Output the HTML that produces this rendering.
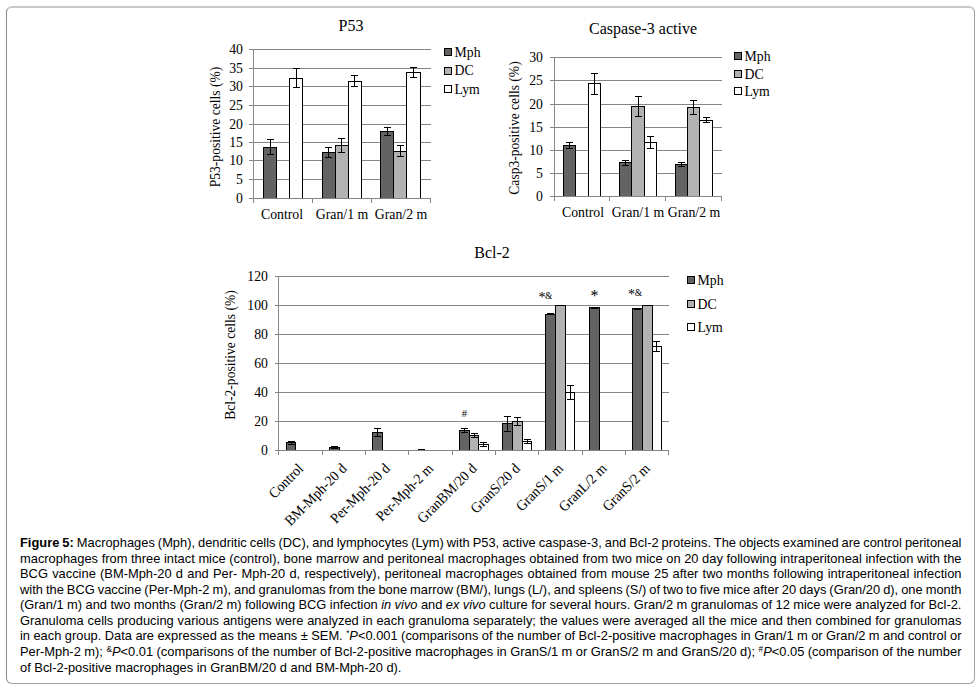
<!DOCTYPE html>
<html><head><meta charset="utf-8"><title>Figure 5</title>
<style>
html,body{margin:0;padding:0;background:#fff;}
body{width:977px;height:686px;position:relative;overflow:hidden;font-family:"Liberation Sans",sans-serif;}
#frame{position:absolute;left:6px;top:6px;width:969px;height:678px;border:1px solid #a2a2a2;border-left-color:#8a8a8a;border-top:2px solid #c8c8c8;border-radius:6px;box-sizing:border-box;box-shadow:0 0 1px rgba(0,0,0,0.12);}
svg{position:absolute;left:0;top:0;}
svg text{font-family:"Liberation Serif",serif;fill:#000000;}
#cap{position:absolute;left:20px;top:0;width:974.6px;font-size:13.33px;line-height:15.53px;color:#000;transform:scaleX(0.966);transform-origin:0 0;}
#cap .l{position:absolute;left:0;width:974.6px;text-align:justify;text-align-last:justify;white-space:nowrap;height:15.53px;word-spacing:-1.2px;}
#cap .l.last{text-align:left;text-align-last:left;word-spacing:0;}
#cap sup{font-size:8.5px;line-height:0;vertical-align:4.3px;}
</style></head><body>
<div id="frame"></div>
<svg width="977" height="686" viewBox="0 0 977 686" shape-rendering="crispEdges">
<rect x="249" y="49" width="182" height="1" fill="#868686"/>
<text transform="translate(243,53.6) scale(0.94,1)" text-anchor="end" font-size="14.67">40</text>
<rect x="249" y="68" width="182" height="1" fill="#868686"/>
<text transform="translate(243,72.6) scale(0.94,1)" text-anchor="end" font-size="14.67">35</text>
<rect x="249" y="86" width="182" height="1" fill="#868686"/>
<text transform="translate(243,90.6) scale(0.94,1)" text-anchor="end" font-size="14.67">30</text>
<rect x="249" y="105" width="182" height="1" fill="#868686"/>
<text transform="translate(243,109.6) scale(0.94,1)" text-anchor="end" font-size="14.67">25</text>
<rect x="249" y="124" width="182" height="1" fill="#868686"/>
<text transform="translate(243,128.6) scale(0.94,1)" text-anchor="end" font-size="14.67">20</text>
<rect x="249" y="142" width="182" height="1" fill="#868686"/>
<text transform="translate(243,146.6) scale(0.94,1)" text-anchor="end" font-size="14.67">15</text>
<rect x="249" y="160" width="182" height="1" fill="#868686"/>
<text transform="translate(243,164.6) scale(0.94,1)" text-anchor="end" font-size="14.67">10</text>
<rect x="249" y="179" width="182" height="1" fill="#868686"/>
<text transform="translate(243,183.6) scale(0.94,1)" text-anchor="end" font-size="14.67">5</text>
<rect x="249" y="198" width="182" height="1" fill="#868686"/>
<text transform="translate(243,202.6) scale(0.94,1)" text-anchor="end" font-size="14.67">0</text>
<rect x="253" y="49" width="1" height="150" fill="#868686"/>
<rect x="253" y="198" width="1" height="5" fill="#868686"/>
<rect x="312" y="198" width="1" height="5" fill="#868686"/>
<rect x="371" y="198" width="1" height="5" fill="#868686"/>
<rect x="430" y="198" width="1" height="5" fill="#868686"/>
<rect x="263.5" y="147.5" width="13" height="51" fill="#636363" stroke="#000" stroke-width="1"/>
<rect x="270" y="139" width="1" height="16" fill="#000"/><rect x="267" y="139" width="7" height="1" fill="#000"/><rect x="267" y="154" width="7" height="1" fill="#000"/>
<rect x="289.5" y="78.5" width="13" height="120" fill="#ffffff" stroke="#000" stroke-width="1"/>
<rect x="296" y="68" width="1" height="20" fill="#000"/><rect x="293" y="68" width="7" height="1" fill="#000"/><rect x="293" y="87" width="7" height="1" fill="#000"/>
<rect x="322.5" y="152.5" width="13" height="46" fill="#636363" stroke="#000" stroke-width="1"/>
<rect x="328" y="147" width="1" height="11" fill="#000"/><rect x="325" y="147" width="7" height="1" fill="#000"/><rect x="325" y="157" width="7" height="1" fill="#000"/>
<rect x="335.5" y="145.5" width="13" height="53" fill="#b2b2b2" stroke="#000" stroke-width="1"/>
<rect x="341" y="138" width="1" height="15" fill="#000"/><rect x="338" y="138" width="7" height="1" fill="#000"/><rect x="338" y="152" width="7" height="1" fill="#000"/>
<rect x="348.5" y="81.5" width="13" height="117" fill="#ffffff" stroke="#000" stroke-width="1"/>
<rect x="354" y="75" width="1" height="12" fill="#000"/><rect x="351" y="75" width="7" height="1" fill="#000"/><rect x="351" y="86" width="7" height="1" fill="#000"/>
<rect x="380.5" y="131.5" width="13" height="67" fill="#636363" stroke="#000" stroke-width="1"/>
<rect x="387" y="127" width="1" height="9" fill="#000"/><rect x="384" y="127" width="7" height="1" fill="#000"/><rect x="384" y="135" width="7" height="1" fill="#000"/>
<rect x="393.5" y="151.5" width="13" height="47" fill="#b2b2b2" stroke="#000" stroke-width="1"/>
<rect x="400" y="145" width="1" height="12" fill="#000"/><rect x="397" y="145" width="7" height="1" fill="#000"/><rect x="397" y="156" width="7" height="1" fill="#000"/>
<rect x="406.5" y="72.5" width="14" height="126" fill="#ffffff" stroke="#000" stroke-width="1"/>
<rect x="413" y="67" width="1" height="11" fill="#000"/><rect x="410" y="67" width="7" height="1" fill="#000"/><rect x="410" y="77" width="7" height="1" fill="#000"/>
<rect x="249" y="198" width="182" height="1" fill="#868686"/>
<rect x="253" y="198" width="1" height="5" fill="#868686"/>
<text transform="translate(351,31)" text-anchor="middle" font-size="16">P53</text>
<text transform="translate(220,127) rotate(-90) scale(0.925,1)" text-anchor="middle" font-size="14.67">P53-positive cells (%)</text>
<text transform="translate(282,219.2) scale(0.94,1)" text-anchor="middle" font-size="14.67">Control</text>
<text transform="translate(342,219.2) scale(0.94,1)" text-anchor="middle" font-size="14.67">Gran/1 m</text>
<text transform="translate(401,219.2) scale(0.94,1)" text-anchor="middle" font-size="14.67">Gran/2 m</text>
<rect x="444.5" y="48.5" width="7" height="7" fill="#636363" stroke="#000" stroke-width="1"/>
<text transform="translate(454.5,56.8) scale(0.94,1)" text-anchor="start" font-size="14.67">Mph</text>
<rect x="444.5" y="67.5" width="7" height="7" fill="#b2b2b2" stroke="#000" stroke-width="1"/>
<text transform="translate(454.5,74.8) scale(0.94,1)" text-anchor="start" font-size="14.67">DC</text>
<rect x="444.5" y="85.5" width="7" height="7" fill="#ffffff" stroke="#000" stroke-width="1"/>
<text transform="translate(454.5,93.8) scale(0.94,1)" text-anchor="start" font-size="14.67">Lym</text>
<rect x="550" y="57" width="172" height="1" fill="#868686"/>
<text transform="translate(543,61.6) scale(0.94,1)" text-anchor="end" font-size="14.67">30</text>
<rect x="550" y="80" width="172" height="1" fill="#868686"/>
<text transform="translate(543,84.6) scale(0.94,1)" text-anchor="end" font-size="14.67">25</text>
<rect x="550" y="104" width="172" height="1" fill="#868686"/>
<text transform="translate(543,108.6) scale(0.94,1)" text-anchor="end" font-size="14.67">20</text>
<rect x="550" y="127" width="172" height="1" fill="#868686"/>
<text transform="translate(543,131.6) scale(0.94,1)" text-anchor="end" font-size="14.67">15</text>
<rect x="550" y="150" width="172" height="1" fill="#868686"/>
<text transform="translate(543,154.6) scale(0.94,1)" text-anchor="end" font-size="14.67">10</text>
<rect x="550" y="173" width="172" height="1" fill="#868686"/>
<text transform="translate(543,177.6) scale(0.94,1)" text-anchor="end" font-size="14.67">5</text>
<rect x="550" y="196" width="172" height="1" fill="#868686"/>
<text transform="translate(543,200.6) scale(0.94,1)" text-anchor="end" font-size="14.67">0</text>
<rect x="554" y="57" width="1" height="140" fill="#868686"/>
<rect x="554" y="196" width="1" height="5" fill="#868686"/>
<rect x="609" y="196" width="1" height="5" fill="#868686"/>
<rect x="665" y="196" width="1" height="5" fill="#868686"/>
<rect x="721" y="196" width="1" height="5" fill="#868686"/>
<rect x="563.5" y="145.5" width="12" height="51" fill="#636363" stroke="#000" stroke-width="1"/>
<rect x="569" y="142" width="1" height="7" fill="#000"/><rect x="566" y="142" width="7" height="1" fill="#000"/><rect x="566" y="148" width="7" height="1" fill="#000"/>
<rect x="588.5" y="83.5" width="12" height="113" fill="#ffffff" stroke="#000" stroke-width="1"/>
<rect x="594" y="73" width="1" height="22" fill="#000"/><rect x="591" y="73" width="7" height="1" fill="#000"/><rect x="591" y="94" width="7" height="1" fill="#000"/>
<rect x="619.5" y="162.5" width="12" height="34" fill="#636363" stroke="#000" stroke-width="1"/>
<rect x="625" y="160" width="1" height="6" fill="#000"/><rect x="622" y="160" width="7" height="1" fill="#000"/><rect x="622" y="165" width="7" height="1" fill="#000"/>
<rect x="631.5" y="106.5" width="13" height="90" fill="#b2b2b2" stroke="#000" stroke-width="1"/>
<rect x="638" y="96" width="1" height="21" fill="#000"/><rect x="635" y="96" width="7" height="1" fill="#000"/><rect x="635" y="116" width="7" height="1" fill="#000"/>
<rect x="644.5" y="142.5" width="12" height="54" fill="#ffffff" stroke="#000" stroke-width="1"/>
<rect x="650" y="136" width="1" height="13" fill="#000"/><rect x="647" y="136" width="7" height="1" fill="#000"/><rect x="647" y="148" width="7" height="1" fill="#000"/>
<rect x="675.5" y="164.5" width="12" height="32" fill="#636363" stroke="#000" stroke-width="1"/>
<rect x="681" y="162" width="1" height="5" fill="#000"/><rect x="678" y="162" width="7" height="1" fill="#000"/><rect x="678" y="166" width="7" height="1" fill="#000"/>
<rect x="687.5" y="107.5" width="12" height="89" fill="#b2b2b2" stroke="#000" stroke-width="1"/>
<rect x="693" y="100" width="1" height="15" fill="#000"/><rect x="690" y="100" width="7" height="1" fill="#000"/><rect x="690" y="114" width="7" height="1" fill="#000"/>
<rect x="699.5" y="120.5" width="13" height="76" fill="#ffffff" stroke="#000" stroke-width="1"/>
<rect x="706" y="117" width="1" height="6" fill="#000"/><rect x="703" y="117" width="7" height="1" fill="#000"/><rect x="703" y="122" width="7" height="1" fill="#000"/>
<rect x="550" y="196" width="172" height="1" fill="#868686"/>
<rect x="554" y="196" width="1" height="5" fill="#868686"/>
<text transform="translate(643,34)" text-anchor="middle" font-size="16">Caspase-3 active</text>
<text transform="translate(519,128) rotate(-90) scale(0.925,1)" text-anchor="middle" font-size="14.67">Casp3-positive cells (%)</text>
<text transform="translate(583,217) scale(0.94,1)" text-anchor="middle" font-size="14.67">Control</text>
<text transform="translate(638,217) scale(0.94,1)" text-anchor="middle" font-size="14.67">Gran/1 m</text>
<text transform="translate(694,217) scale(0.94,1)" text-anchor="middle" font-size="14.67">Gran/2 m</text>
<rect x="734.5" y="52.5" width="7" height="7" fill="#636363" stroke="#000" stroke-width="1"/>
<text transform="translate(744.5,60.8) scale(0.94,1)" text-anchor="start" font-size="14.67">Mph</text>
<rect x="734.5" y="70.5" width="7" height="7" fill="#b2b2b2" stroke="#000" stroke-width="1"/>
<text transform="translate(744.5,78.5) scale(0.94,1)" text-anchor="start" font-size="14.67">DC</text>
<rect x="734.5" y="87.5" width="7" height="7" fill="#ffffff" stroke="#000" stroke-width="1"/>
<text transform="translate(744.5,95.8) scale(0.94,1)" text-anchor="start" font-size="14.67">Lym</text>
<rect x="275" y="276" width="394" height="1" fill="#868686"/>
<text transform="translate(268,280.6) scale(0.94,1)" text-anchor="end" font-size="14.67">120</text>
<rect x="275" y="305" width="394" height="1" fill="#868686"/>
<text transform="translate(268,309.6) scale(0.94,1)" text-anchor="end" font-size="14.67">100</text>
<rect x="275" y="334" width="394" height="1" fill="#868686"/>
<text transform="translate(268,338.6) scale(0.94,1)" text-anchor="end" font-size="14.67">80</text>
<rect x="275" y="363" width="394" height="1" fill="#868686"/>
<text transform="translate(268,367.6) scale(0.94,1)" text-anchor="end" font-size="14.67">60</text>
<rect x="275" y="392" width="394" height="1" fill="#868686"/>
<text transform="translate(268,396.6) scale(0.94,1)" text-anchor="end" font-size="14.67">40</text>
<rect x="275" y="421" width="394" height="1" fill="#868686"/>
<text transform="translate(268,425.6) scale(0.94,1)" text-anchor="end" font-size="14.67">20</text>
<rect x="275" y="450" width="394" height="1" fill="#868686"/>
<text transform="translate(268,454.6) scale(0.94,1)" text-anchor="end" font-size="14.67">0</text>
<rect x="278" y="276" width="1" height="175" fill="#868686"/>
<rect x="278" y="450" width="1" height="5" fill="#868686"/>
<rect x="322" y="450" width="1" height="5" fill="#868686"/>
<rect x="365" y="450" width="1" height="5" fill="#868686"/>
<rect x="408" y="450" width="1" height="5" fill="#868686"/>
<rect x="452" y="450" width="1" height="5" fill="#868686"/>
<rect x="495" y="450" width="1" height="5" fill="#868686"/>
<rect x="538" y="450" width="1" height="5" fill="#868686"/>
<rect x="582" y="450" width="1" height="5" fill="#868686"/>
<rect x="625" y="450" width="1" height="5" fill="#868686"/>
<rect x="668" y="450" width="1" height="5" fill="#868686"/>
<rect x="286.5" y="442.5" width="9" height="8" fill="#636363" stroke="#000" stroke-width="1"/>
<rect x="291" y="441" width="1" height="4" fill="#000"/><rect x="288" y="441" width="7" height="1" fill="#000"/><rect x="288" y="444" width="7" height="1" fill="#000"/>
<rect x="329.5" y="447.5" width="10" height="3" fill="#636363" stroke="#000" stroke-width="1"/>
<rect x="334" y="446" width="1" height="3" fill="#000"/><rect x="331" y="446" width="7" height="1" fill="#000"/><rect x="331" y="448" width="7" height="1" fill="#000"/>
<rect x="372.5" y="432.5" width="10" height="18" fill="#636363" stroke="#000" stroke-width="1"/>
<rect x="377" y="428" width="1" height="9" fill="#000"/><rect x="374" y="428" width="7" height="1" fill="#000"/><rect x="374" y="436" width="7" height="1" fill="#000"/>
<rect x="418" y="449" width="7" height="1" fill="#000"/>
<rect x="459.5" y="430.5" width="10" height="20" fill="#636363" stroke="#000" stroke-width="1"/>
<rect x="464" y="428" width="1" height="5" fill="#000"/><rect x="461" y="428" width="7" height="1" fill="#000"/><rect x="461" y="432" width="7" height="1" fill="#000"/>
<rect x="469.5" y="435.5" width="9" height="15" fill="#b2b2b2" stroke="#000" stroke-width="1"/>
<rect x="474" y="433" width="1" height="5" fill="#000"/><rect x="471" y="433" width="7" height="1" fill="#000"/><rect x="471" y="437" width="7" height="1" fill="#000"/>
<rect x="478.5" y="444.5" width="10" height="6" fill="#ffffff" stroke="#000" stroke-width="1"/>
<rect x="483" y="442" width="1" height="5" fill="#000"/><rect x="480" y="442" width="7" height="1" fill="#000"/><rect x="480" y="446" width="7" height="1" fill="#000"/>
<rect x="502.5" y="423.5" width="10" height="27" fill="#636363" stroke="#000" stroke-width="1"/>
<rect x="507" y="416" width="1" height="16" fill="#000"/><rect x="504" y="416" width="7" height="1" fill="#000"/><rect x="504" y="431" width="7" height="1" fill="#000"/>
<rect x="512.5" y="421.5" width="10" height="29" fill="#b2b2b2" stroke="#000" stroke-width="1"/>
<rect x="517" y="417" width="1" height="9" fill="#000"/><rect x="514" y="417" width="7" height="1" fill="#000"/><rect x="514" y="425" width="7" height="1" fill="#000"/>
<rect x="522.5" y="441.5" width="9" height="9" fill="#ffffff" stroke="#000" stroke-width="1"/>
<rect x="527" y="439" width="1" height="5" fill="#000"/><rect x="524" y="439" width="7" height="1" fill="#000"/><rect x="524" y="443" width="7" height="1" fill="#000"/>
<rect x="545.5" y="314.5" width="10" height="136" fill="#636363" stroke="#000" stroke-width="1"/>
<rect x="550" y="313" width="1" height="2" fill="#000"/><rect x="547" y="313" width="7" height="1" fill="#000"/><rect x="547" y="314" width="7" height="1" fill="#000"/>
<rect x="555.5" y="305.5" width="10" height="145" fill="#b2b2b2" stroke="#000" stroke-width="1"/>
<rect x="565.5" y="392.5" width="9" height="58" fill="#ffffff" stroke="#000" stroke-width="1"/>
<rect x="570" y="385" width="1" height="15" fill="#000"/><rect x="567" y="385" width="7" height="1" fill="#000"/><rect x="567" y="399" width="7" height="1" fill="#000"/>
<rect x="589.5" y="307.5" width="10" height="143" fill="#636363" stroke="#000" stroke-width="1"/>
<rect x="594" y="307" width="1" height="2" fill="#000"/><rect x="591" y="307" width="7" height="1" fill="#000"/><rect x="591" y="308" width="7" height="1" fill="#000"/>
<rect x="632.5" y="308.5" width="10" height="142" fill="#636363" stroke="#000" stroke-width="1"/>
<rect x="637" y="308" width="1" height="2" fill="#000"/><rect x="634" y="308" width="7" height="1" fill="#000"/><rect x="634" y="309" width="7" height="1" fill="#000"/>
<rect x="642.5" y="305.5" width="10" height="145" fill="#b2b2b2" stroke="#000" stroke-width="1"/>
<rect x="652.5" y="346.5" width="9" height="104" fill="#ffffff" stroke="#000" stroke-width="1"/>
<rect x="656" y="341" width="1" height="11" fill="#000"/><rect x="653" y="341" width="7" height="1" fill="#000"/><rect x="653" y="351" width="7" height="1" fill="#000"/>
<rect x="275" y="450" width="394" height="1" fill="#868686"/>
<rect x="278" y="450" width="1" height="5" fill="#868686"/>
<text transform="translate(492,258)" text-anchor="middle" font-size="16">Bcl-2</text>
<text transform="translate(235,355) rotate(-90) scale(0.925,1)" text-anchor="middle" font-size="14.67">Bcl-2-positive cells (%)</text>
<rect x="687.5" y="276.5" width="7" height="7" fill="#636363" stroke="#000" stroke-width="1"/>
<text transform="translate(697.5,284.8) scale(0.94,1)" text-anchor="start" font-size="14.67">Mph</text>
<rect x="687.5" y="300.5" width="7" height="7" fill="#b2b2b2" stroke="#000" stroke-width="1"/>
<text transform="translate(697.5,308.8) scale(0.94,1)" text-anchor="start" font-size="14.67">DC</text>
<rect x="687.5" y="323.5" width="7" height="7" fill="#ffffff" stroke="#000" stroke-width="1"/>
<text transform="translate(697.5,331.8) scale(0.94,1)" text-anchor="start" font-size="14.67">Lym</text>
<text transform="translate(304.2,469.5) rotate(-45) scale(0.94,1)" text-anchor="end" font-size="14.67">Control</text>
<text transform="translate(347.5,469.5) rotate(-45) scale(0.94,1)" text-anchor="end" font-size="14.67">BM-Mph-20 d</text>
<text transform="translate(390.8,469.5) rotate(-45) scale(0.94,1)" text-anchor="end" font-size="14.67">Per-Mph-20 d</text>
<text transform="translate(434.2,469.5) rotate(-45) scale(0.94,1)" text-anchor="end" font-size="14.67">Per-Mph-2 m</text>
<text transform="translate(477.5,469.5) rotate(-45) scale(0.94,1)" text-anchor="end" font-size="14.67">GranBM/20 d</text>
<text transform="translate(520.8,469.5) rotate(-45) scale(0.94,1)" text-anchor="end" font-size="14.67">GranS/20 d</text>
<text transform="translate(564.2,469.5) rotate(-45) scale(0.94,1)" text-anchor="end" font-size="14.67">GranS/1 m</text>
<text transform="translate(607.5,469.5) rotate(-45) scale(0.94,1)" text-anchor="end" font-size="14.67">GranL/2 m</text>
<text transform="translate(650.8,469.5) rotate(-45) scale(0.94,1)" text-anchor="end" font-size="14.67">GranS/2 m</text>
<text x="461.8" y="417" font-size="10.67">#</text>
<text x="538.5" y="302.1" font-size="14">*</text>
<text x="544.9" y="298.9" font-size="9.5">&amp;</text>
<text x="590.4" y="300.6" font-size="16">*</text>
<text x="627.9" y="299.4" font-size="14">*</text>
<text x="634.7" y="295.9" font-size="9.5">&amp;</text>
</svg>
<div id="cap"><div class="l" style="top:534.8px"><b>Figure 5:</b> Macrophages (Mph), dendritic cells (DC), and lymphocytes (Lym) with P53, active caspase-3, and Bcl-2 proteins. The objects examined are control peritoneal</div><div class="l" style="top:550.8px">macrophages from three intact mice (control), bone marrow and peritoneal macrophages obtained from two mice on 20 day following intraperitoneal infection with the</div><div class="l" style="top:565.8px">BCG vaccine (BM-Mph-20 d and Per- Mph-20 d, respectively), peritoneal macrophages obtained from mouse 25 after two months following intraperitoneal infection</div><div class="l" style="top:581.8px">with the BCG vaccine (Per-Mph-2 m), and granulomas from the bone marrow (BM/), lungs (L/), and spleens (S/) of two to five mice after 20 days (Gran/20 d), one month</div><div class="l" style="top:596.8px">(Gran/1 m) and two months (Gran/2 m) following BCG infection <i>in vivo</i> and <i>ex vivo</i> culture for several hours. Gran/2 m granulomas of 12 mice were analyzed for Bcl-2.</div><div class="l" style="top:612.8px">Granuloma cells producing various antigens were analyzed in each granuloma separately; the values were averaged all the mice and then combined for granulomas</div><div class="l" style="top:627.8px">in each group. Data are expressed as the means ± SEM. <sup>*</sup><i>P</i>&lt;0.001 (comparisons of the number of Bcl-2-positive macrophages in Gran/1 m or Gran/2 m and control or</div><div class="l" style="top:643.8px">Per-Mph-2 m); <sup>&amp;</sup><i>P</i>&lt;0.01 (comparisons of the number of Bcl-2-positive macrophages in GranS/1 m or GranS/2 m and GranS/20 d); <sup>#</sup><i>P</i>&lt;0.05 (comparison of the number</div><div class="l last" style="top:659.8px">of Bcl-2-positive macrophages in GranBM/20 d and BM-Mph-20 d).</div></div>
</body></html>
